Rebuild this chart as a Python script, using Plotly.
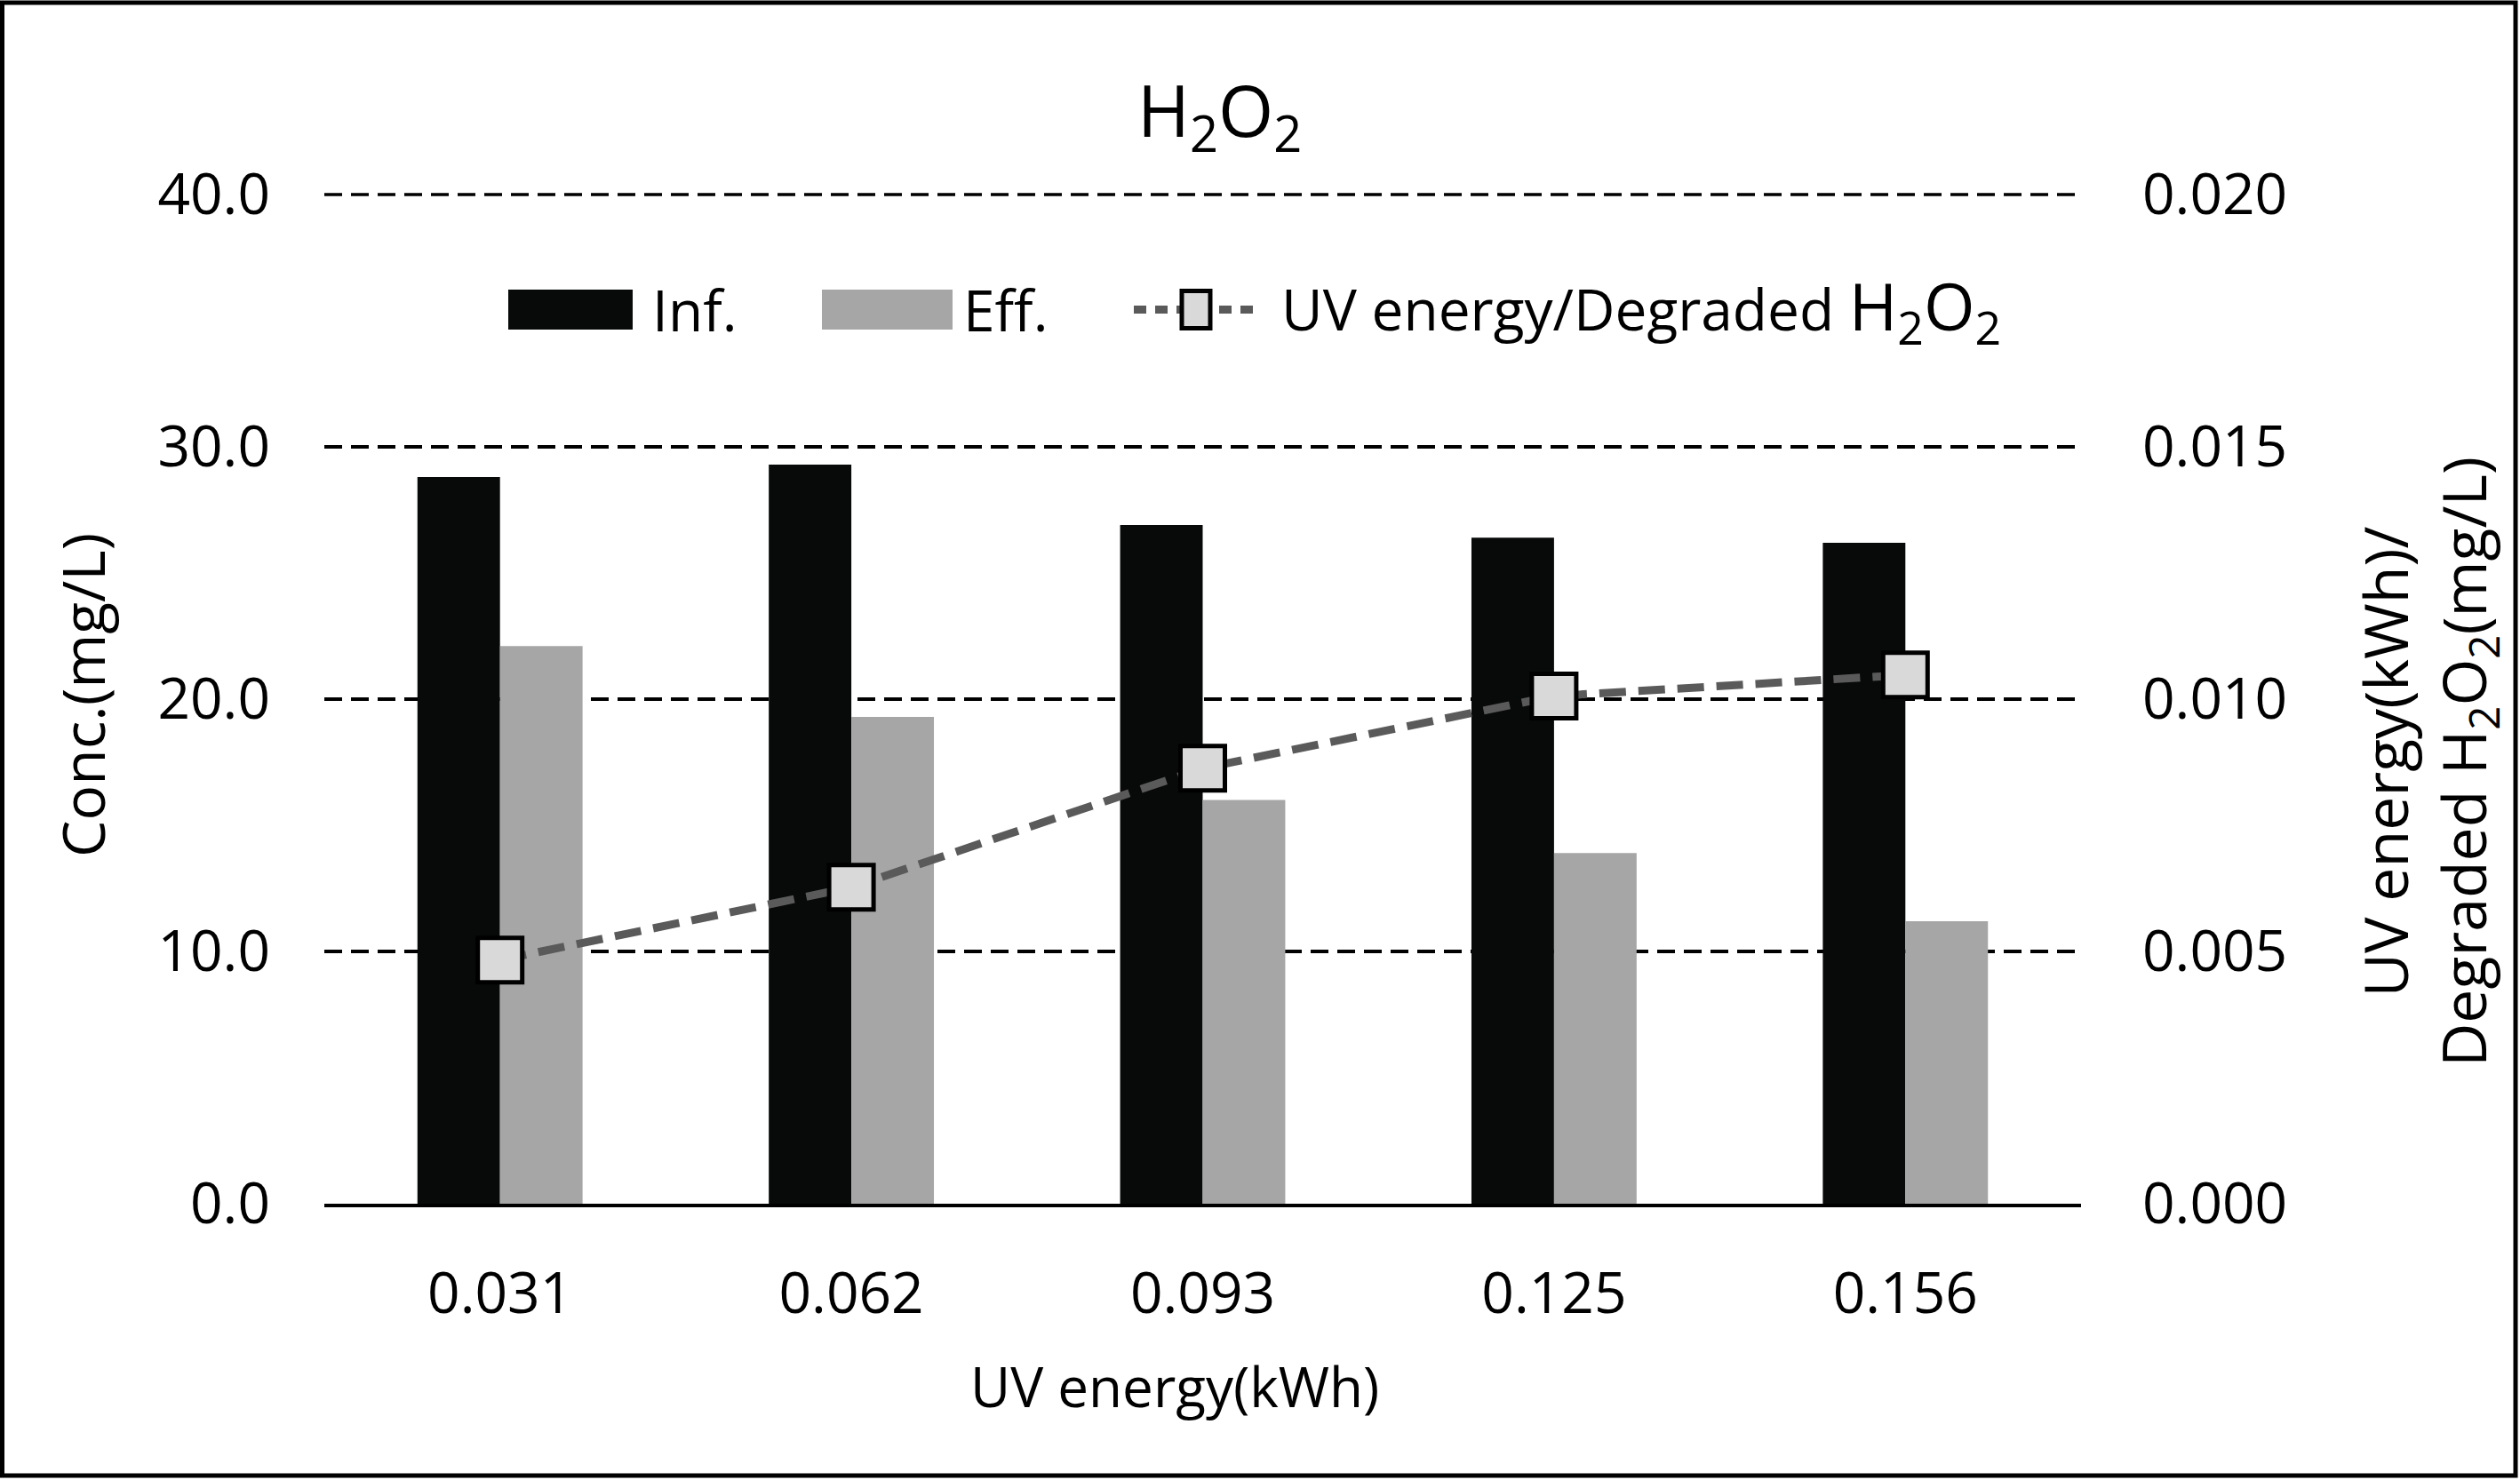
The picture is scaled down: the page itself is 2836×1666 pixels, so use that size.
import plotly.graph_objects as go

# ---------------- data ----------------
categories = ["0.031", "0.062", "0.093", "0.125", "0.156"]
inf_values = [28.8, 29.3, 26.9, 26.4, 26.2]
eff_values = [22.1, 19.3, 16.0, 13.9, 11.2]
ratio_values = [0.00483, 0.00627, 0.00863, 0.01006, 0.01048]
left_ticks = [0, 10, 20, 30, 40]
right_ticks = [0.0, 0.005, 0.010, 0.015, 0.020]

# ---------------- geometry ----------------
W, H = 2836, 1666
L, R, T, B = 365, 494, 219, 311
PW, PH = W - L - R, H - T - B


def fx(p):
    return (p - L) / PW


def fy(p):
    return (H - B - p) / PH


FONT = "Open Sans"
BLACK = "#080a09"
GRAY = "#a6a6a6"
LINEC = "#5a5a5a"
GRID_DASH = "20px,10px"

fig = go.Figure()
fig.add_trace(go.Bar(x=categories, y=inf_values, name="Inf.", marker=dict(color=BLACK, line=dict(width=0))))
fig.add_trace(go.Bar(x=categories, y=eff_values, name="Eff.", marker=dict(color=GRAY, line=dict(width=0))))
fig.add_trace(go.Scatter(
    x=categories, y=ratio_values, yaxis="y2", mode="lines+markers",
    name="UV energy/Degraded H<sub>2</sub>O<sub>2</sub>",
    line=dict(color=LINEC, width=9, dash="30px,14px"),
    marker=dict(symbol="square", size=50, color="#d9d9d9", line=dict(color="black", width=5)),
))

shapes = []
annotations = []

# top gridline at the top of the y range (plotly skips the grid line lying on the plot edge)
shapes.append(dict(type="line", xref="paper", yref="paper", x0=0, x1=1, y0=1, y1=1,
                   line=dict(color="black", width=3.5, dash=GRID_DASH), layer="below"))

# outer frame
shapes.append(dict(type="rect", xref="paper", yref="paper",
                   x0=fx(2.5), x1=fx(2831), y0=fy(3), y1=fy(1661),
                   line=dict(color="black", width=5), fillcolor="rgba(0,0,0,0)", layer="above"))

# custom legend
LEG_Y0, LEG_Y1 = 326, 371
LEG_YC = (LEG_Y0 + LEG_Y1) / 2
shapes.append(dict(type="rect", xref="paper", yref="paper", x0=fx(572), x1=fx(712), y0=fy(LEG_Y1), y1=fy(LEG_Y0),
                   fillcolor=BLACK, line=dict(width=0)))
shapes.append(dict(type="rect", xref="paper", yref="paper", x0=fx(925), x1=fx(1072), y0=fy(LEG_Y1), y1=fy(LEG_Y0),
                   fillcolor=GRAY, line=dict(width=0)))
shapes.append(dict(type="line", xref="paper", yref="paper", x0=fx(1276), x1=fx(1416), y0=fy(LEG_YC), y1=fy(LEG_YC),
                   line=dict(color=LINEC, width=9, dash="14px,10px")))
shapes.append(dict(type="rect", xref="paper", yref="paper", x0=fx(1330), x1=fx(1362), y0=fy(LEG_YC + 21), y1=fy(LEG_YC - 21),
                   fillcolor="#d9d9d9", line=dict(color="black", width=5)))

leg_font = dict(family=FONT, size=64, color="black")
legend_items = [
    ("Inf.", 732),
    ("Eff.", 1082),
    ("UV energy/Degraded <span style=\"font-size:74px\">H<sub>2</sub>O<sub>2</sub></span>", 1440),
]
for text, xpos in legend_items:
    annotations.append(dict(text=text, xref="paper", yref="paper", x=fx(xpos), y=fy(LEG_YC), xanchor="left",
                            yanchor="middle", showarrow=False, font=leg_font))

# title
annotations.append(dict(text="H<sub>2</sub>O<sub>2</sub>", xref="paper", yref="paper", x=fx(1372), y=fy(128),
                        xanchor="center", yanchor="middle", showarrow=False,
                        font=dict(family=FONT, size=80, color="black")))

# axis titles
annotations.append(dict(text="Conc.(mg/L)", xref="paper", yref="paper", x=fx(92), y=fy(783), textangle=-90,
                        xanchor="center", yanchor="middle", showarrow=False,
                        font=dict(family=FONT, size=66, color="black")))
annotations.append(dict(text="UV energy(kWh)/<br>Degraded H<sub>2</sub>O<sub>2</sub>(mg/L)", xref="paper", yref="paper",
                        x=fx(2732), y=fy(858), textangle=-90, xanchor="center", yanchor="middle",
                        showarrow=False, font=dict(family=FONT, size=68, color="black")))
annotations.append(dict(text="UV energy(kWh)", xref="paper", yref="paper", x=fx(1322), y=fy(1560),
                        xanchor="center", yanchor="middle", showarrow=False,
                        font=dict(family=FONT, size=62, color="black")))

tick_font = dict(family=FONT, size=64, color="black")
fig.update_layout(
    width=W, height=H,
    margin=dict(l=L, r=R, t=T, b=B, autoexpand=False),
    paper_bgcolor="white", plot_bgcolor="white",
    barmode="group", bargap=0.53, bargroupgap=0,
    showlegend=False,
    shapes=shapes, annotations=annotations,
    xaxis=dict(type="category", showline=True, linecolor="black", linewidth=4, ticks="",
               tickfont=tick_font, ticklabelstandoff=42, showgrid=False, zeroline=False),
    yaxis=dict(range=[0, 40], tickvals=left_ticks, tickformat=".1f", tickfont=tick_font,
               showgrid=True, gridcolor="black", gridwidth=3.5, griddash=GRID_DASH,
               zeroline=False, showline=False, ticks="", ticklabelstandoff=60),
    yaxis2=dict(range=[0, 0.02], tickvals=right_ticks, tickformat=".3f", tickfont=tick_font,
                overlaying="y", side="right", showgrid=False, zeroline=False, showline=False,
                ticks="", ticklabelstandoff=68),
)

fig.write_html("out.html", config={"displayModeBar": False},
               post_script="document.body.style.margin='0';document.body.style.overflow='hidden';")
